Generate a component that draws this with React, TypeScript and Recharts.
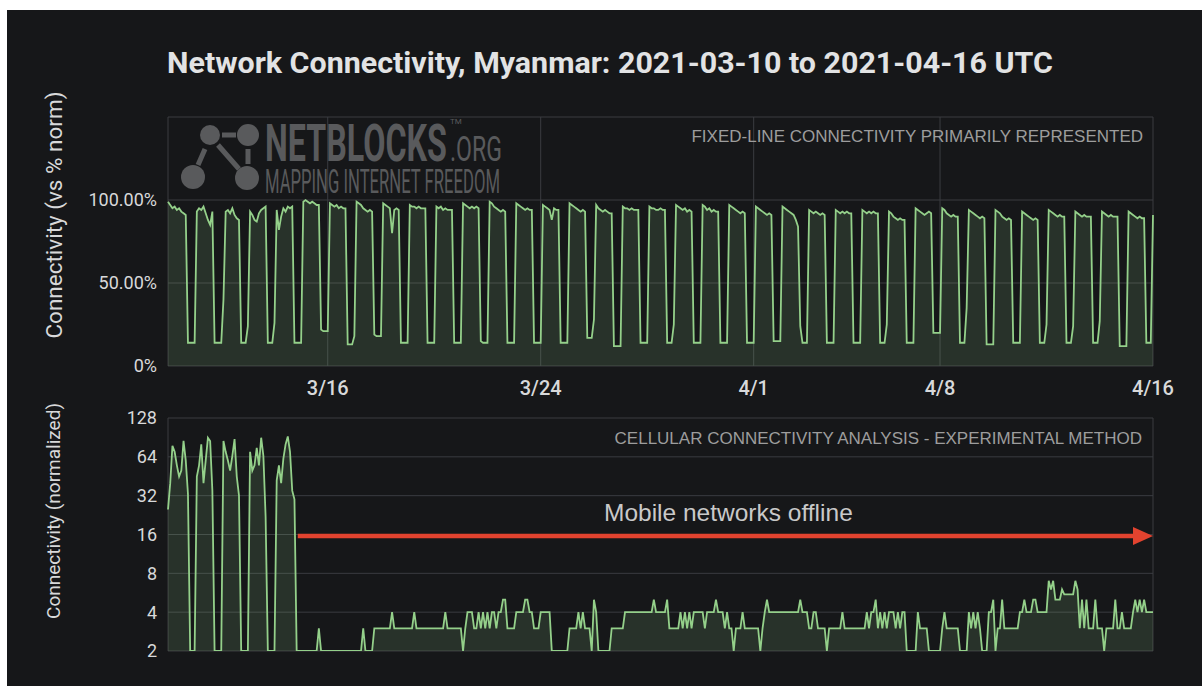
import React from 'react';
import { AreaChart, Area, XAxis, YAxis, CartesianGrid, ReferenceLine } from 'recharts';

const BG = '#161719';
const GRID = '#3a3c40';
const GREEN = '#94d08a';
const RED = '#e2432f';
const TEXT = '#d8d9da';
const MARK = '#595a5c';

const START = Date.UTC(2021, 2, 10);
const END = Date.UTC(2021, 3, 16);
const STEP_MS = 2 * 3600 * 1000;

const xTicks = [
  Date.UTC(2021, 2, 16),
  Date.UTC(2021, 2, 24),
  Date.UTC(2021, 3, 1),
  Date.UTC(2021, 3, 8),
  Date.UTC(2021, 3, 16),
];
const fixedTicks = [0, 50, 100, 150];
const cellTicks = [2, 4, 8, 16, 32, 64, 128];

// fixed-line readings, % of norm, every 2 h (00h..22h), one row per UTC day from 3/10
const fixedLineByDay: number[][] = [
  [99, 97, 95, 96, 94, 95, 93, 92, 91, 14, 14, 14],
  [14, 93, 95, 94, 96, 92, 88, 85, 93, 14, 14, 14],
  [14, 40, 93, 94, 92, 95, 91, 89, 88, 14, 14, 14],
  [24, 93, 91, 88, 87, 92, 94, 95, 96, 14, 14, 14],
  [26, 94, 82, 90, 95, 93, 96, 95, 96, 14, 14, 14],
  [14, 99, 100, 99, 98, 99, 98, 97, 97, 22, 21, 21],
  [21, 98, 97, 96, 97, 95, 96, 95, 95, 13, 13, 13],
  [18, 99, 98, 97, 95, 94, 93, 94, 93, 19, 18, 18],
  [18, 98, 97, 96, 95, 80, 94, 95, 94, 14, 14, 14],
  [14, 97, 96, 96, 95, 96, 95, 95, 95, 14, 14, 14],
  [14, 96, 95, 96, 94, 95, 94, 94, 94, 14, 14, 14],
  [14, 98, 97, 96, 95, 96, 95, 96, 95, 15, 14, 14],
  [14, 99, 98, 96, 95, 94, 93, 94, 93, 14, 14, 14],
  [14, 98, 97, 96, 95, 94, 95, 94, 94, 14, 14, 14],
  [14, 97, 96, 95, 94, 88, 95, 94, 94, 14, 14, 14],
  [14, 98, 97, 96, 95, 94, 93, 94, 93, 17, 17, 17],
  [28, 97, 95, 94, 93, 94, 93, 92, 92, 12, 12, 12],
  [12, 96, 95, 95, 94, 95, 94, 94, 94, 14, 14, 14],
  [14, 96, 95, 95, 94, 94, 95, 94, 94, 14, 14, 14],
  [25, 97, 96, 95, 94, 95, 93, 94, 93, 14, 14, 14],
  [14, 97, 96, 94, 95, 93, 94, 93, 93, 14, 14, 14],
  [14, 97, 96, 95, 94, 93, 92, 93, 92, 14, 14, 14],
  [14, 96, 95, 94, 93, 92, 91, 92, 91, 15, 15, 15],
  [15, 96, 95, 94, 93, 92, 91, 88, 84, 24, 14, 14],
  [14, 94, 93, 92, 93, 92, 91, 92, 91, 14, 14, 14],
  [14, 94, 93, 92, 93, 92, 93, 92, 92, 14, 14, 14],
  [14, 94, 93, 92, 93, 92, 93, 92, 92, 14, 14, 14],
  [25, 93, 92, 90, 89, 88, 89, 88, 88, 14, 14, 14],
  [14, 95, 94, 93, 92, 91, 92, 93, 92, 20, 20, 20],
  [20, 95, 94, 92, 91, 90, 91, 90, 90, 14, 14, 14],
  [35, 94, 93, 92, 91, 90, 89, 90, 89, 13, 13, 13],
  [13, 94, 93, 92, 90, 89, 88, 89, 88, 14, 14, 14],
  [14, 93, 92, 91, 90, 89, 88, 89, 88, 14, 14, 14],
  [25, 94, 93, 92, 91, 90, 91, 90, 90, 14, 14, 14],
  [24, 93, 92, 91, 90, 91, 90, 90, 90, 14, 14, 14],
  [27, 93, 92, 91, 90, 91, 90, 90, 90, 12, 12, 12],
  [12, 93, 92, 91, 90, 89, 90, 89, 89, 14, 14, 14],
];
const fixedLineLast = 91; // 4/16 00h

// cellular readings (normalized), same 2 h grid
const cellularByDay: number[][] = [
  [25, 40, 78, 70, 55, 45, 50, 85, 60, 33, 2, 2],
  [2, 45, 55, 80, 40, 60, 90, 85, 35, 2, 2, 2],
  [2, 85, 70, 60, 50, 65, 88, 45, 32, 2, 2, 2],
  [2, 70, 50, 55, 75, 55, 90, 65, 22, 2, 2, 2],
  [2, 42, 55, 40, 62, 80, 92, 70, 35, 30, 2, 2],
  [2, 2, 2, 2, 2, 2, 2, 2, 3, 2, 2, 2],
  [2, 2, 2, 2, 2, 2, 2, 2, 2, 2, 2, 2],
  [2, 2, 2, 2, 3, 2, 2, 2, 2, 3, 3, 3],
  [3, 3, 3, 3, 3, 4, 3, 3, 3, 3, 3, 3],
  [3, 3, 3, 4, 3, 3, 3, 3, 3, 3, 3, 3],
  [3, 3, 3, 3, 3, 4, 3, 3, 3, 3, 3, 3],
  [3, 2, 3, 4, 4, 4, 3, 3, 4, 3, 4, 3],
  [4, 3, 4, 4, 3, 4, 4, 5, 5, 3, 3, 3],
  [3, 4, 4, 4, 4, 5, 5, 4, 4, 3, 3, 3],
  [4, 4, 4, 4, 4, 2, 2, 2, 2, 2, 2, 2],
  [2, 3, 3, 3, 3, 4, 3, 4, 3, 3, 3, 2],
  [5, 4, 2, 2, 2, 2, 2, 2, 3, 3, 3, 3],
  [3, 3, 4, 4, 4, 4, 4, 4, 4, 4, 4, 4],
  [4, 4, 4, 5, 4, 4, 4, 4, 4, 5, 3, 3],
  [3, 3, 3, 4, 3, 4, 3, 4, 3, 4, 4, 4],
  [4, 4, 3, 4, 4, 4, 4, 5, 4, 4, 4, 3],
  [4, 3, 3, 2, 3, 3, 3, 4, 3, 3, 3, 3],
  [3, 3, 3, 2, 3, 4, 5, 4, 4, 4, 4, 4],
  [4, 4, 4, 4, 4, 4, 4, 4, 4, 5, 4, 4],
  [4, 3, 3, 4, 4, 3, 3, 3, 3, 2, 3, 3],
  [3, 3, 3, 3, 4, 3, 3, 3, 3, 3, 3, 3],
  [3, 3, 3, 4, 3, 4, 4, 5, 3, 4, 3, 4],
  [3, 4, 4, 4, 3, 4, 3, 4, 4, 2, 2, 2],
  [2, 2, 4, 3, 3, 3, 3, 2, 2, 2, 2, 2],
  [2, 3, 4, 3, 3, 3, 3, 3, 3, 2, 2, 2],
  [2, 4, 3, 4, 3, 4, 3, 2, 2, 2, 4, 4],
  [5, 2, 3, 3, 5, 3, 3, 3, 3, 3, 3, 3],
  [4, 4, 5, 4, 4, 4, 5, 5, 4, 4, 4, 4],
  [4, 7, 6, 7, 5, 5, 5, 6, 5.5, 5.5, 5.5, 5.5],
  [5.5, 7, 6, 3, 5, 3, 5, 3, 3, 3, 5, 3],
  [3, 3, 2, 3, 3, 3, 3, 5, 3, 3, 4, 3],
  [3, 3, 3, 4, 5, 4, 5, 4, 5, 4, 4, 4],
];
const cellularLast = 4;

// "Mobile networks offline" arrow
const arrowFrom = Date.UTC(2021, 2, 14, 21);
const arrowLevel = 15.6;

const fixedLine = [...fixedLineByDay.flat(), fixedLineLast];
const cellular = [...cellularByDay.flat(), cellularLast];
const data = fixedLine.map((v, i) => ({ t: START + i * STEP_MS, fixed: v, cell: cellular[i] }));

const fmtDate = (t: number) => {
  const d = new Date(t);
  return `${d.getUTCMonth() + 1}/${d.getUTCDate()}`;
};
const fmtPct = (v: number) => (v === 150 ? '' : v === 0 ? '0%' : `${v.toFixed(2)}%`);

const ArrowShape = (p: any) => {
  const { x1, y1, x2 } = p;
  const head = 20;
  return (
    <g>
      <line x1={x1} y1={y1} x2={x2 - head + 2} y2={y1} stroke={RED} strokeWidth={4.5} />
      <polygon points={`${x2 - head},${y1 - 9} ${x2},${y1} ${x2 - head},${y1 + 9}`} fill={RED} />
      <text
        x={(x1 + x2) / 2 + 3}
        y={y1 - 15}
        textAnchor="middle"
        fontFamily="'Liberation Sans', Arial, sans-serif"
        fontSize={24.5}
        fill="#c9c9c9"
      >
        Mobile networks offline
      </text>
    </g>
  );
};

const tickStyle = { fill: TEXT, fontSize: 18, fontFamily: 'Roboto' };
const noteFont = "'Liberation Sans', Arial, sans-serif";

// condensed watermark word: a block with tight line-height, squeezed horizontally
const mark = (left: number, top: number, size: number, lh: number, sx: number, weight = 400): React.CSSProperties => ({
  position: 'absolute',
  left,
  top,
  fontFamily: 'Roboto',
  fontSize: size,
  fontWeight: weight,
  lineHeight: `${lh}px`,
  height: lh,
  color: MARK,
  whiteSpace: 'nowrap',
  transform: `scaleX(${sx})`,
  transformOrigin: '0 0',
});

export default function App() {
  return (
    <div style={{ position: 'absolute', left: 0, top: 0, width: 1202, height: 686, background: '#fff', overflow: 'hidden' }}>
      <div style={{ position: 'absolute', left: 7, top: 10, width: 1195, height: 676, background: BG }} />

      {/* watermark */}
      <svg style={{ position: 'absolute', left: 0, top: 0 }} width={1202} height={686}>
        <g stroke={MARK} strokeWidth={5}>
          <line x1={205} y1={149} x2={198} y2={165} />
          <line x1={218} y1={145} x2={239} y2={169} />
          <line x1={248} y1={149} x2={248} y2={164} />
          <line x1={222} y1={135} x2={236} y2={135} />
        </g>
        <g fill={MARK}>
          <circle cx={210} cy={135} r={10} />
          <circle cx={248} cy={135} r={11} />
          <circle cx={193} cy={177} r={12} />
          <circle cx={247} cy={178} r={12} />
        </g>
      </svg>
      <div style={mark(265, 128, 52, 32, 0.62, 700)}>NETBLOCKS</div>
      <div style={mark(450, 118, 8, 8, 1)}>TM</div>
      <div style={mark(450, 139, 35, 22, 0.66)}>.ORG</div>
      <div style={mark(265, 169.5, 34, 22, 0.49)}>MAPPING INTERNET FREEDOM</div>

      <div style={{ position: 'absolute', left: 0, top: 100 }}>
        <AreaChart width={1202} height={300} data={data} margin={{ top: 17, right: 49, bottom: 4, left: 108 }}>
          <CartesianGrid stroke={GRID} />
          <XAxis
            dataKey="t"
            type="number"
            domain={[START, END]}
            ticks={xTicks}
            interval={0}
            tickFormatter={fmtDate}
            axisLine={false}
            tickLine={false}
            tickSize={0}
            tickMargin={15}
            height={30}
            tick={{ ...tickStyle, fontSize: 20, fontWeight: 500 }}
          />
          <YAxis
            type="number"
            domain={[0, 150]}
            ticks={fixedTicks}
            interval={0}
            tickFormatter={fmtPct}
            width={60}
            axisLine={false}
            tickLine={false}
            tickSize={0}
            tickMargin={11}
            tick={tickStyle}
          />
          <Area
            type="linear"
            dataKey="fixed"
            stroke={GREEN}
            strokeWidth={1.8}
            fill={GREEN}
            fillOpacity={0.15}
            dot={false}
            activeDot={false}
            isAnimationActive={false}
          />
        </AreaChart>
      </div>

      <div style={{ position: 'absolute', left: 0, top: 400 }}>
        <AreaChart width={1202} height={270} data={data} margin={{ top: 18, right: 49, bottom: 18, left: 108 }}>
          <CartesianGrid stroke={GRID} />
          <XAxis
            dataKey="t"
            type="number"
            domain={[START, END]}
            ticks={xTicks}
            interval={0}
            tick={false}
            axisLine={false}
            tickLine={false}
            height={1}
          />
          <YAxis
            type="number"
            scale="log"
            domain={[2, 128]}
            ticks={cellTicks}
            interval={0}
            allowDataOverflow
            width={60}
            axisLine={false}
            tickLine={false}
            tickSize={0}
            tickMargin={11}
            tick={tickStyle}
          />
          <Area
            type="linear"
            dataKey="cell"
            baseValue={2}
            stroke={GREEN}
            strokeWidth={1.8}
            fill={GREEN}
            fillOpacity={0.15}
            dot={false}
            activeDot={false}
            isAnimationActive={false}
          />
          <ReferenceLine
            segment={[
              { x: arrowFrom, y: arrowLevel },
              { x: END, y: arrowLevel },
            ]}
            shape={ArrowShape}
          />
        </AreaChart>
      </div>

      {/* titles and notes */}
      <svg style={{ position: 'absolute', left: 0, top: 0, pointerEvents: 'none' }} width={1202} height={686}>
        <text x={610} y={73} textAnchor="middle" fontFamily="Roboto" fontWeight={700} fontSize={30.4} fill="#e2e3e4">
          Network Connectivity, Myanmar: 2021-03-10 to 2021-04-16 UTC
        </text>
        <text
          transform="translate(62,215) rotate(-90)"
          textAnchor="middle"
          fontFamily="Roboto"
          fontSize={22.5}
          fill={TEXT}
        >
          Connectivity (vs % norm)
        </text>
        <text
          transform="translate(60,511) rotate(-90)"
          textAnchor="middle"
          fontFamily="Roboto"
          fontSize={19}
          fill={TEXT}
        >
          Connectivity (normalized)
        </text>
        <text x={1143} y={142} textAnchor="end" fontFamily={noteFont} fontSize={17} fill="#9d9d9d">
          FIXED-LINE CONNECTIVITY PRIMARILY REPRESENTED
        </text>
        <text x={1142} y={444} textAnchor="end" fontFamily={noteFont} fontSize={17} fill="#9d9d9d">
          CELLULAR CONNECTIVITY ANALYSIS - EXPERIMENTAL METHOD
        </text>
      </svg>
    </div>
  );
}
